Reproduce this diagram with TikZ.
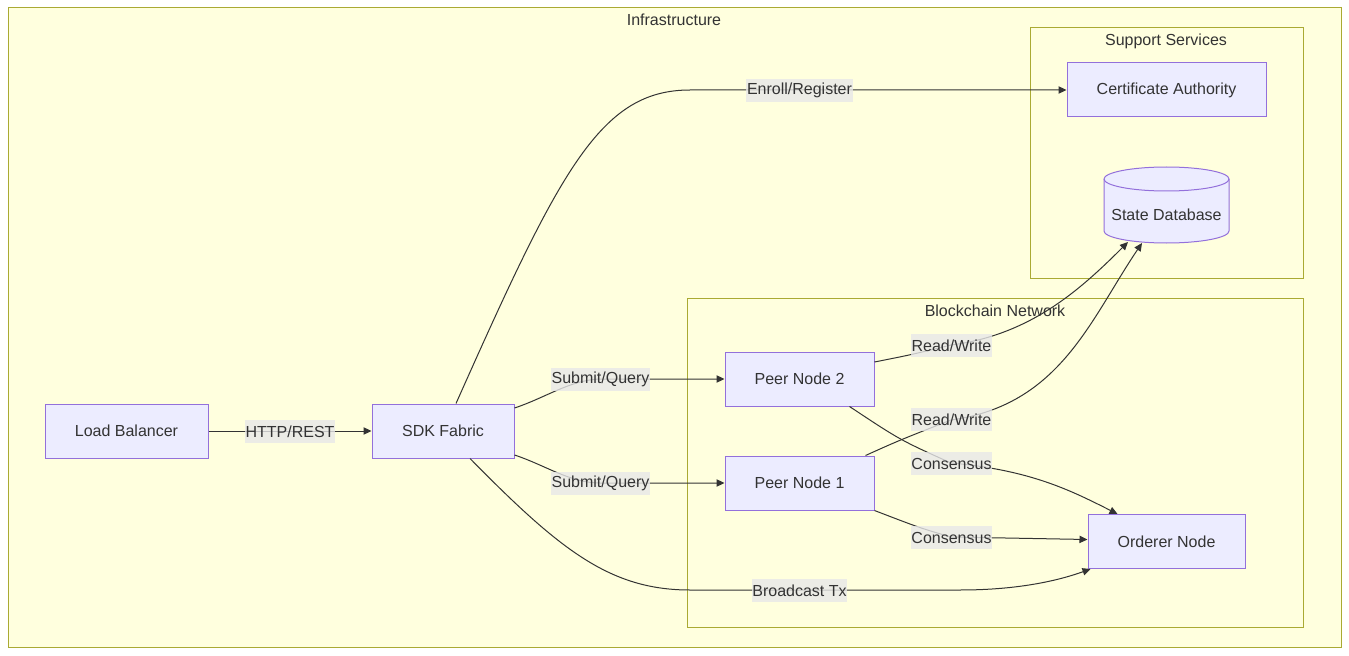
\documentclass[tikz,border=0pt]{standalone}
\usepackage{fontspec}
\setmainfont{Liberation Sans}
\usetikzlibrary{arrows.meta,calc}
\definecolor{clfill}{HTML}{FFFFDE}
\definecolor{clline}{HTML}{AAAA33}
\definecolor{ndfill}{HTML}{ECECFF}
\definecolor{ndline}{HTML}{9370DB}
\definecolor{txt}{HTML}{333333}
\definecolor{lblbg}{HTML}{E8E8E8}
\begin{document}
\begin{tikzpicture}[x=0.75pt,y=-0.75pt,
  font=\fontsize{12}{14}\selectfont, text=txt,
  cluster/.style={draw=clline, fill=clfill, line width=0.75pt},
  ctitle/.style={yshift=-0.75pt},
  box/.style={draw=ndline, fill=ndfill, line width=0.75pt, minimum height=40.5pt, inner sep=0pt},
  lbl/.style={fill=lblbg, fill opacity=0.8, text opacity=1, inner xsep=0.5pt, inner ysep=0pt, minimum height=17.25pt, yshift=-0.5pt},
  edge/.style={draw=txt, line width=0.75pt, -{Triangle[length=6pt,width=5.5pt]}}]
\fill[white] (0,0) rectangle (1349,656);
\useasboundingbox (0,0) rectangle (1349,656);
% clusters
\draw[cluster] (8,8) rectangle (1341,647);
\node[ctitle] (tinfra) at (674,19) {Infrastructure};
\draw[cluster] (1030,28) rectangle (1303,278);
\node[ctitle] (tsup) at (1166,40) {Support Services};
\draw[cluster] (687,298) rectangle (1303,627);
\node[ctitle] (tbc) at (995,310) {Blockchain Network};
% nodes
\node[box, minimum width=122.25pt] (lb) at (126.5,431) {Load Balancer};
\node[box, minimum width=106.5pt] (sdk) at (443,431) {SDK Fabric};
\node[box, minimum width=111.75pt] (p2) at (799.5,379) {Peer Node 2};
\node[box, minimum width=111.75pt] (p1) at (799.5,483) {Peer Node 1};
\node[box, minimum width=149.25pt] (ca) at (1166.5,90) {Certificate Authority};
\node[box, minimum width=117.75pt] (ord) at (1166.5,541.5) {Orderer Node};
% cylinder
\draw[draw=ndline, fill=ndfill, line width=0.75pt]
  (1104,179) -- (1104,231) arc[start angle=180, end angle=0, x radius=62.5, y radius=12]
  -- (1229,179) arc[start angle=0, end angle=-180, x radius=62.5, y radius=12] -- cycle;
\draw[draw=ndline, line width=0.75pt] (1104,179) arc[start angle=180, end angle=0, x radius=62.5, y radius=12];
\node[ctitle] (db) at (1166.5,214) {State Database};
% edges
\draw[edge] (lb) -- (sdk);
\draw[edge] ($(sdk.north)+(13,0)$) .. controls (560,170) and (600,90) .. (690,90) -- (ca.west);
\draw[edge] ($(sdk.east)+(0,-23)$) .. controls (545,398) and (570,380) .. (600,379) -- (p2.west);
\draw[edge] ($(sdk.east)+(0,24)$) .. controls (545,465) and (570,483) .. (600,483) -- (p1.west);
\draw[edge] ($(sdk.south)+(27,0)$) .. controls (560,550) and (610,590) .. (690,590) -- (960,590)
  .. controls (1020,590) and (1060,580) .. ($(ord.south west)+(3,0)$);
\draw[edge] ($(p2.east)+(0,-17)$) .. controls (910,355) .. (951,345)
  .. controls (1030,335) and (1080,290) .. ($(db)+(-38.5,27)$);
\draw[edge] ($(p1.north east)+(-9,0)$) .. controls (900,440) .. (951,420)
  .. controls (1060,405) and (1090,320) .. ($(db)+(-24.5,28)$);
\draw[edge] ($(p2.south)+(50,0)$) .. controls (900,440) .. (951,463)
  .. controls (1030,470) and (1070,490) .. ($(ord.north west)+(30,0)$);
\draw[edge] (p1.south east) .. controls (920,528) .. (951,537) -- ($(ord.west)+(0,-2)$);
% edge labels
\node[lbl] (l1) at (290,431) {HTTP/REST};
\node[lbl] (l2) at (799.5,90) {Enroll/Register};
\node[lbl] (l3) at (600.5,379) {Submit/Query};
\node[lbl] (l4) at (600.5,483) {Submit/Query};
\node[lbl] (l5) at (799.5,590) {Broadcast Tx};
\node[lbl] (l6) at (951.5,345) {Read/Write};
\node[lbl] (l7) at (951.5,419) {Read/Write};
\node[lbl] (l8) at (951.5,463) {Consensus};
\node[lbl] (l9) at (951.5,537) {Consensus};
\end{tikzpicture}
\end{document}
